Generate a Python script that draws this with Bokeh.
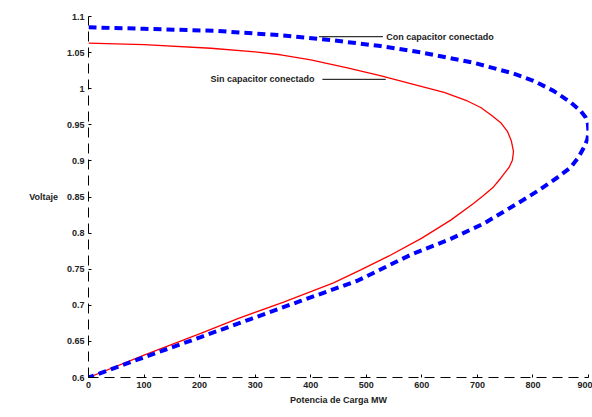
from bokeh.plotting import figure
from bokeh.models import Label, Range1d, FixedTicker
from bokeh.embed import file_html
from bokeh.resources import INLINE

# P-V curves: load power (MW) vs voltage (p.u.)
p_sin = [0, 100, 220, 300, 346, 400, 466, 525, 585, 640, 682, 706, 724, 742,
         754, 761, 765, 763, 757, 750, 742, 729, 711, 693, 652, 600, 540, 490,
         441, 350, 270, 202, 100, 0]
v_sin = [1.063, 1.061, 1.056, 1.051, 1.047, 1.040, 1.029, 1.018, 1.006, 0.995,
         0.983, 0.974, 0.964, 0.953, 0.941, 0.928, 0.913, 0.901, 0.891, 0.884,
         0.876, 0.864, 0.852, 0.841, 0.818, 0.793, 0.768, 0.749, 0.731, 0.704,
         0.682, 0.661, 0.631, 0.600]

p_con = [0, 100, 232, 346, 440, 526, 600, 693, 765, 801, 837, 868, 886, 895,
         899, 900, 898, 892, 882, 868, 844, 810, 772, 711, 652, 580, 484, 382,
         292, 202, 100, 0]
v_con = [1.085, 1.083, 1.080, 1.074, 1.067, 1.059, 1.050, 1.036, 1.021, 1.011,
         0.997, 0.981, 0.969, 0.960, 0.951, 0.940, 0.930, 0.919, 0.905, 0.891,
         0.877, 0.859, 0.841, 0.813, 0.792, 0.770, 0.734, 0.706, 0.681, 0.656,
         0.628, 0.600]

x_ticks = [0, 100, 200, 300, 400, 500, 600, 700, 800, 900]
y_ticks = [0.6, 0.65, 0.7, 0.75, 0.8, 0.85, 0.9, 0.95, 1.0, 1.05, 1.1]

# annotation leader lines (data coordinates)
con_line_x = [415, 530]
con_line_y = [1.072, 1.072]
sin_line_x = [421, 535]
sin_line_y = [1.013, 1.013]

FONT = "Liberation Sans"
TXT = "#222222"

p = figure(width=592, height=417, output_backend="svg", toolbar_location=None,
           x_range=Range1d(0, 900), y_range=Range1d(0.6, 1.1),
           min_border_left=88, min_border_right=4, min_border_top=16,
           min_border_bottom=40)
p.outline_line_color = None
p.xgrid.visible = False
p.ygrid.visible = False

p.line(p_sin, v_sin, line_color="#ff0000", line_width=1.3)
p.line(p_con, v_con, line_color="#0000ff", line_width=4, line_dash="8 5")

p.line(con_line_x, con_line_y, line_color="black", line_width=1)
p.line(sin_line_x, sin_line_y, line_color="black", line_width=1)

for ax, ticks in ((p.xaxis, x_ticks), (p.yaxis, y_ticks)):
    ax.ticker = FixedTicker(ticks=ticks)
    ax.axis_line_dash = "10 6"
    ax.axis_line_color = "black"
    ax.major_tick_in = 3
    ax.major_tick_out = 0
    ax.minor_tick_line_color = None
    ax.major_label_text_font = FONT
    ax.major_label_text_font_size = "9px"
    ax.major_label_text_font_style = "bold"
    ax.major_label_text_color = TXT
    ax.major_label_standoff = 4
    ax.axis_label_text_font = FONT
    ax.axis_label_text_font_size = "9px"
    ax.axis_label_text_font_style = "bold"
    ax.axis_label_text_color = TXT

p.yaxis.major_label_overrides = {1.0: "1", 1.1: "1.1", 0.6: "0.6", 0.9: "0.9",
                                 0.8: "0.8", 0.7: "0.7"}

p.xaxis.axis_label = "Potencia de Carga MW"
p.xaxis.axis_label_standoff = 4
p.yaxis.axis_label = "Voltaje"
p.yaxis.axis_label_orientation = "horizontal"
p.yaxis.axis_label_standoff = 6


def add_text(x, y, txt, align="left"):
    p.add_layout(Label(x=x, y=y, text=txt, text_font=FONT, text_font_size="9px",
                       text_font_style="bold", text_color=TXT,
                       text_align=align, text_baseline="middle"))


add_text(536, 1.072, "Con capacitor conectado")
add_text(407, 1.013, "Sin capacitor conectado", align="right")

open("out.html", "w").write(file_html(p, INLINE))
